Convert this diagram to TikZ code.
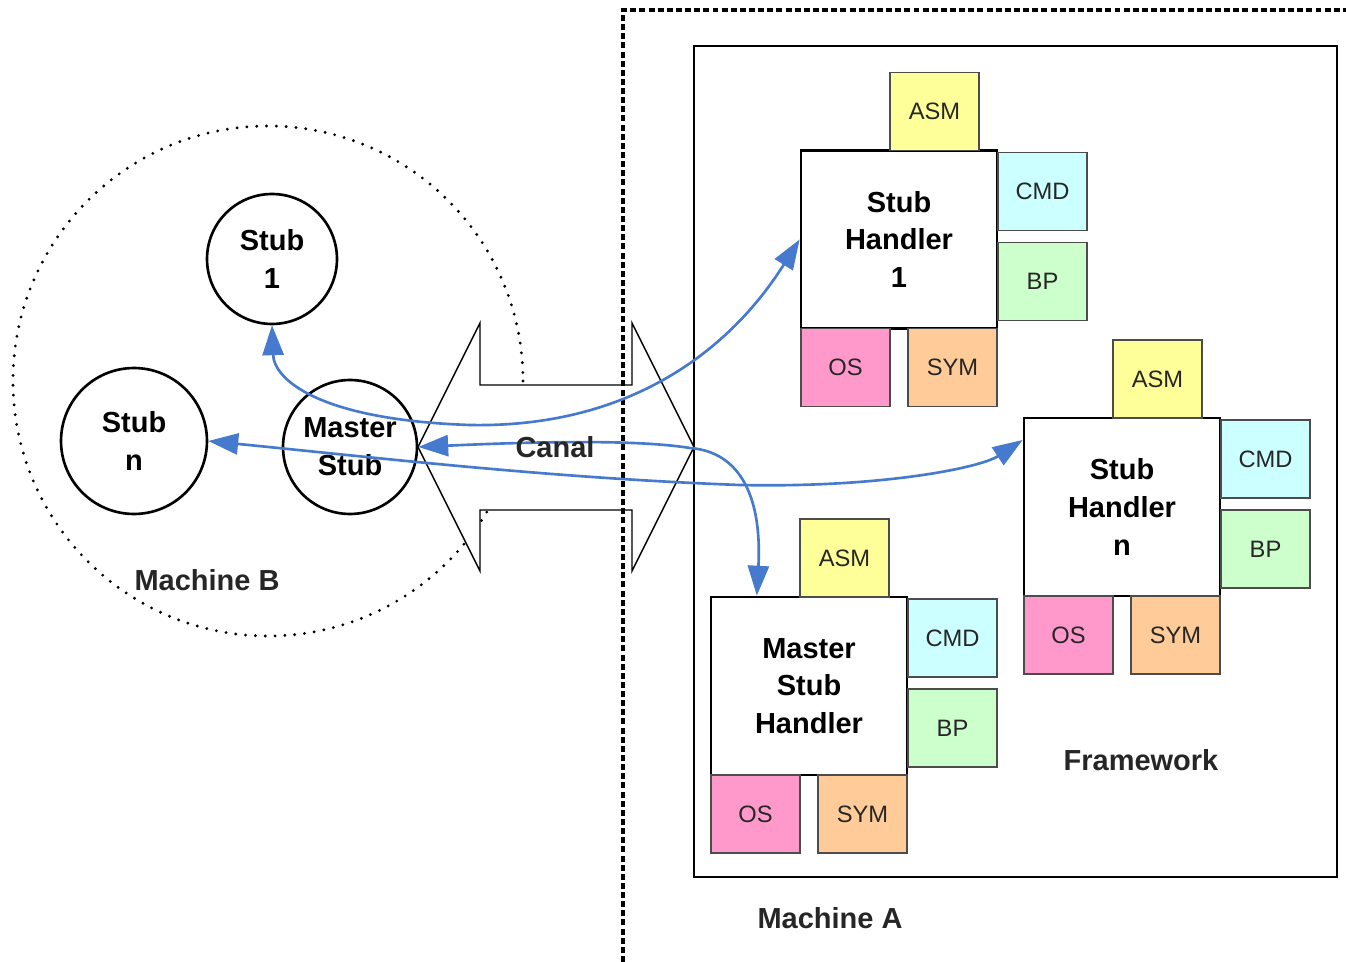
\documentclass[tikz,border=0pt]{standalone}
\usepackage{fontspec}
\setmainfont{Liberation Sans}
\usetikzlibrary{arrows.meta}

\definecolor{linkblue}{RGB}{70,122,206}
\definecolor{asmcol}{RGB}{255,255,153}
\definecolor{cmdcol}{RGB}{204,255,255}
\definecolor{bpcol}{RGB}{204,255,204}
\definecolor{oscol}{RGB}{255,153,204}
\definecolor{symcol}{RGB}{255,204,153}

\newcommand{\boldlbl}{\fontsize{16.5}{21.5}\selectfont\bfseries}
\newcommand{\partlbl}{\fontsize{13.5}{16}\selectfont}

\tikzset{
  stubnode/.style={draw, circle, line width=1.5pt, inner sep=0pt, align=center, font=\boldlbl},
  handlerbox/.style={draw, fill=white, line width=1.6pt, minimum width=3.92cm, minimum height=3.56cm, inner sep=0pt, align=center, font=\boldlbl},
  partbox/.style={draw=black!70, line width=1pt, minimum width=1.78cm, minimum height=1.56cm, inner sep=0pt, font=\partlbl, text=black!85},
  link/.style={linkblue, line width=1.5pt, >={Triangle[length=17pt,width=12pt]}, <->},
  label/.style={font=\boldlbl, text=black!85}
}

\begin{document}
\begin{tikzpicture}[x=0.02cm, y=-0.02cm]
\useasboundingbox (0,0) rectangle (1346,962);

% machine B
\draw[line width=1.8pt, dash pattern=on 0pt off 5.6pt, line cap=round] (268,381) circle (255);

% canal
\draw[fill=white, line width=0.8pt] (418,447) -- (480,323) -- (480,385) -- (632,385) -- (632,323) -- (694,447)
  -- (632,571) -- (632,510) -- (480,510) -- (480,571) -- cycle;

% machine A
\draw[line width=1.9pt, dash pattern=on 3.4pt off 1.8pt] (623,962) -- (623,10) -- (1346,10);
\draw[line width=1.6pt] (694,46) rectangle (1337,877);

% stubs
\node[stubnode, minimum size=2.6cm] (stub1) at (272,259) {Stub\\1};
\node[stubnode, minimum size=2.92cm] (stubn) at (134,441) {Stub\\n};
\node[stubnode, minimum size=2.68cm] (mstub) at (350,447) {Master\\Stub};

% handlers
\foreach \id/\cx/\cy/\txt in {h1/899/239.5/{Stub\\Handler\\1}, hn/1122/507/{Stub\\Handler\\n}, mh/809/686/{Master\\Stub\\Handler}} {
  \node[handlerbox] (\id) at (\cx,\cy) {\txt};
  \node[partbox, fill=asmcol] (\id-asm) at (\cx+35.5,\cy-128) {ASM};
  \node[partbox, fill=cmdcol] (\id-cmd) at (\cx+143.5,\cy-48) {CMD};
  \node[partbox, fill=bpcol] (\id-bp) at (\cx+143.5,\cy+42) {BP};
  \node[partbox, fill=oscol] (\id-os) at (\cx-53.5,\cy+128) {OS};
  \node[partbox, fill=symcol] (\id-sym) at (\cx+53.5,\cy+128) {SYM};
}

% links
\draw[link] (stub1.south) .. controls (274,380) and (320,420) .. (470,425)
  .. controls (630,428) and (730,350) .. (h1.west);
\draw[link] (stubn.east) .. controls (380,458) and (550,478) .. (740,485)
  .. controls (880,488) and (980,468) .. (hn.146);
\draw[link] (mstub.east) .. controls (550,441) and (640,440) .. (690,448)
  .. controls (742,452) and (762,500) .. (mh.120);

% labels
\node[label] (canal) at (555,447) {Canal};
\node[label] (machb) at (207,580) {Machine B};
\node[label] (macha) at (830,918) {Machine A};
\node[label] (fw) at (1141,760) {Framework};
\end{tikzpicture}
\end{document}
